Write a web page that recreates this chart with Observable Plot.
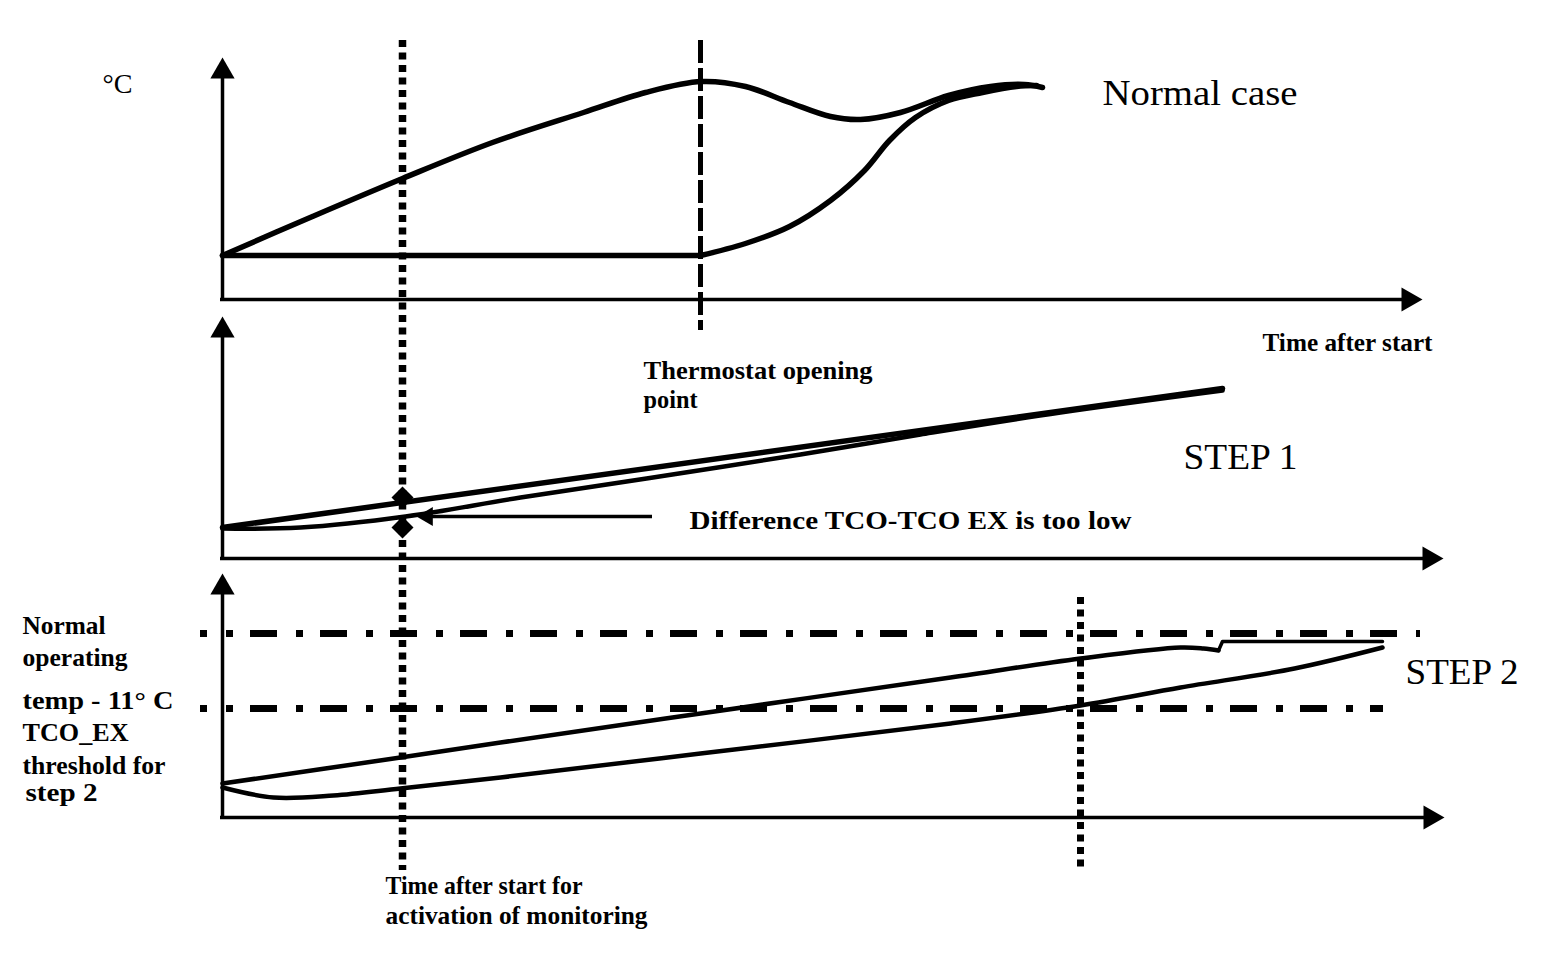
<!DOCTYPE html>
<html>
<head>
<meta charset="utf-8">
<script src="https://cdn.jsdelivr.net/npm/d3@7"></script>
<script src="https://cdn.jsdelivr.net/npm/@observablehq/plot@0.6"></script>
<style>
  html, body { margin: 0; padding: 0; background: #fff; }
  #chart svg { display: block; }
</style>
</head>
<body>
<div id="chart"></div>
<script>
// ---- Data (t = horizontal position on the time axes, v = vertical position in the figure) ----

// Panel 1 – Normal case
const tcoNormal = [
  {t: 222, v: 255}, {t: 312, v: 216}, {t: 402, v: 178}, {t: 492, v: 142}, {t: 583, v: 112},
  {t: 645, v: 92}, {t: 701, v: 81}, {t: 745, v: 86}, {t: 789, v: 102}, {t: 830, v: 116},
  {t: 860, v: 119}, {t: 900, v: 112}, {t: 948, v: 95}, {t: 990, v: 86}, {t: 1024, v: 84}, {t: 1042, v: 87}
];
const tcoExNormalFlat = [{t: 222, v: 255}, {t: 700, v: 255}];
const tcoExNormalRise = [
  {t: 700, v: 255}, {t: 745, v: 243}, {t: 789, v: 226}, {t: 830, v: 200}, {t: 864, v: 170},
  {t: 889, v: 140}, {t: 915, v: 117}, {t: 948, v: 100}, {t: 982, v: 92}, {t: 1016, v: 86}, {t: 1036, v: 85}
];

// Panel 2 – STEP 1
const tcoStep1 = [{t: 222, v: 527}, {t: 1222, v: 388}];
const tcoExStep1 = [
  {t: 222, v: 528}, {t: 300, v: 527}, {t: 405, v: 516}, {t: 520, v: 497}, {t: 646, v: 478},
  {t: 800, v: 454}, {t: 920, v: 434}, {t: 1060, v: 412}, {t: 1222, v: 390}
];
const diffMarkers = [{t: 402, v: 497}, {t: 402, v: 527}];
const diffPointer = [{t1: 652, t2: 416, v: 516}];

// Panel 3 – STEP 2
const tcoStep2 = [
  {t: 222, v: 783}, {t: 400, v: 757}, {t: 500, v: 742}, {t: 700, v: 713}, {t: 950, v: 677},
  {t: 1080, v: 658}, {t: 1180, v: 647}, {t: 1203, v: 648}, {t: 1218, v: 650}
];
const tcoStep2Hold = [{t: 1218, v: 650}, {t: 1222, v: 641}, {t: 1382, v: 641}];
const tcoExStep2 = [
  {t: 222, v: 787}, {t: 273, v: 797}, {t: 333, v: 795}, {t: 400, v: 788}, {t: 500, v: 777},
  {t: 700, v: 753}, {t: 950, v: 723}, {t: 1080, v: 705}, {t: 1180, v: 687}, {t: 1294, v: 668}, {t: 1382, v: 647}
];
const thresholds = [
  {name: "Normal operating temp - 11° C", v: 633, t1: 200, t2: 1420},
  {name: "TCO_EX threshold for step 2", v: 708, t1: 200, t2: 1383}
];

// Axes (origin and arrow tip)
const yAxes = [{t: 222, v0: 299, tip: 57}, {t: 222, v0: 558, tip: 316}, {t: 222, v0: 817, tip: 573}];
const xAxes = [{v: 299, t0: 220, tip: 1422}, {v: 558, t0: 220, tip: 1443}, {v: 817, t0: 220, tip: 1444}];

// Vertical event markers
const activationLine = [{t: 402, v1: 40, v2: 870}];
const thermostatLine = [{t: 700, v1: 40, v2: 330}];
const step2Line = [{t: 1080, v1: 597, v2: 870}];

// Text annotations
const bigLabels = [
  {text: "Normal case", t: 1102, v: 104},
  {text: "STEP 1", t: 1183, v: 468},
  {text: "STEP 2", t: 1405, v: 683}
];
const unitLabel = [{text: "°C", t: 102, v: 92}];
const noteLabels = [
  {text: "Time after start", t: 1262, v: 350},
  {text: "Thermostat opening", t: 643, v: 378},
  {text: "point", t: 643, v: 407},
  {text: "Difference TCO-TCO EX is too low", t: 689, v: 528},
  {text: "Normal", t: 22, v: 633},
  {text: "operating", t: 22, v: 665},
  {text: "temp - 11° C", t: 22, v: 708},
  {text: "TCO_EX", t: 22, v: 740},
  {text: "threshold for", t: 22, v: 773},
  {text: "step 2", t: 25, v: 800},
  {text: "Time after start for", t: 385, v: 893},
  {text: "activation of monitoring", t: 385, v: 923}
];
const textWidths = {
  "Normal case": 195, "STEP 1": 114, "STEP 2": 113, "°C": 30,
  "Time after start": 170, "Thermostat opening": 229, "point": 54,
  "Difference TCO-TCO EX is too low": 442, "Normal": 83, "operating": 105,
  "temp - 11° C": 151, "TCO_EX": 106, "threshold for": 143, "step 2": 72,
  "Time after start for": 197, "activation of monitoring": 262
};

// ---- Arrowheads: d3 triangle of radius r has centroid 2/3 of its height from the tip ----
const HEAD_R = 9;
const headOffset = HEAD_R * Math.sqrt(Math.PI / (3 * Math.sqrt(3))) * 2; // tip -> centroid
const PTR_R = 7;
const ptrOffset = PTR_R * Math.sqrt(Math.PI / (3 * Math.sqrt(3))) * 2;

const serif = "'Liberation Serif', 'Times New Roman', Times, serif";

const chart = Plot.plot({
  width: 1568,
  height: 958,
  marginTop: 0, marginRight: 0, marginBottom: 0, marginLeft: 0,
  x: {domain: [0, 1568], axis: null},
  y: {domain: [0, 958], reverse: true, axis: null},
  style: {background: "#fff", fontFamily: serif, color: "#000"},
  marks: [
    // threshold lines (dash-dot)
    Plot.ruleY(thresholds, {y: "v", x1: "t1", x2: "t2", stroke: "#000", strokeWidth: 7,
      strokeDasharray: "27,19,7,17", strokeDashoffset: 20}),

    // axes
    Plot.ruleX(yAxes, {x: "t", y1: "v0", y2: d => d.tip + 3 * headOffset / 2 - 2, stroke: "#000", strokeWidth: 3.5}),
    Plot.dot(yAxes, {x: "t", y: d => d.tip + headOffset, r: HEAD_R, symbol: "triangle", fill: "#000", stroke: null}),
    Plot.ruleY(xAxes, {y: "v", x1: "t0", x2: d => d.tip - 3 * headOffset / 2 + 2, stroke: "#000", strokeWidth: 3.5}),
    Plot.dot(xAxes, {x: d => d.tip - headOffset, y: "v", r: HEAD_R, symbol: "triangle", rotate: 90, fill: "#000", stroke: null}),

    // panel 1 curves
    Plot.line(tcoNormal, {x: "t", y: "v", curve: "catmull-rom", stroke: "#000", strokeWidth: 5.5}),
    Plot.line(tcoExNormalFlat, {x: "t", y: "v", stroke: "#000", strokeWidth: 5.5}),
    Plot.line(tcoExNormalRise, {x: "t", y: "v", curve: "catmull-rom", stroke: "#000", strokeWidth: 5.5}),

    // panel 2 curves
    Plot.line(tcoStep1, {x: "t", y: "v", stroke: "#000", strokeWidth: 5.5}),
    Plot.line(tcoExStep1, {x: "t", y: "v", curve: "catmull-rom", stroke: "#000", strokeWidth: 4.5}),

    // panel 3 curves
    Plot.line(tcoStep2, {x: "t", y: "v", curve: "catmull-rom", stroke: "#000", strokeWidth: 4.5}),
    Plot.line(tcoStep2Hold, {x: "t", y: "v", stroke: "#000", strokeWidth: 3.5}),
    Plot.line(tcoExStep2, {x: "t", y: "v", curve: "catmull-rom", stroke: "#000", strokeWidth: 4.5}),

    // vertical markers
    Plot.ruleX(activationLine, {x: "t", y1: "v1", y2: "v2", stroke: "#000", strokeWidth: 7.5, strokeDasharray: "7,5.5"}),
    Plot.ruleX(step2Line, {x: "t", y1: "v1", y2: "v2", stroke: "#000", strokeWidth: 7, strokeDasharray: "7,5.5"}),
    Plot.ruleX(thermostatLine, {x: "t", y1: "v1", y2: "v2", stroke: "#000", strokeWidth: 5, strokeDasharray: "23,5"}),

    // difference markers and pointer
    Plot.dot(diffMarkers, {x: "t", y: "v", r: 8.8, symbol: "square", rotate: 45, fill: "#000", stroke: null}),
    Plot.ruleY(diffPointer, {y: "v", x1: "t1", x2: d => d.t2 + ptrOffset, stroke: "#000", strokeWidth: 3.5}),
    Plot.dot(diffPointer, {x: d => d.t2 + ptrOffset, y: "v", r: PTR_R, symbol: "triangle", rotate: -90, fill: "#000", stroke: null}),

    // text
    Plot.text(bigLabels, {x: "t", y: "v", text: "text", textAnchor: "start", lineAnchor: "bottom",
      fontSize: 36, fill: "#000", fontFamily: serif}),
    Plot.text(unitLabel, {x: "t", y: "v", text: "text", textAnchor: "start", lineAnchor: "bottom",
      fontSize: 28, fill: "#000", fontFamily: serif}),
    Plot.text(noteLabels, {x: "t", y: "v", text: "text", textAnchor: "start", lineAnchor: "bottom",
      fontSize: 25, fontWeight: "bold", fill: "#000", fontFamily: serif})
  ]
});

chart.querySelectorAll("text").forEach(el => {
  const w = textWidths[el.textContent];
  if (w) {
    el.setAttribute("textLength", w);
    el.setAttribute("lengthAdjust", "spacingAndGlyphs");
  }
});

document.getElementById("chart").appendChild(chart);
</script>
</body>
</html>
